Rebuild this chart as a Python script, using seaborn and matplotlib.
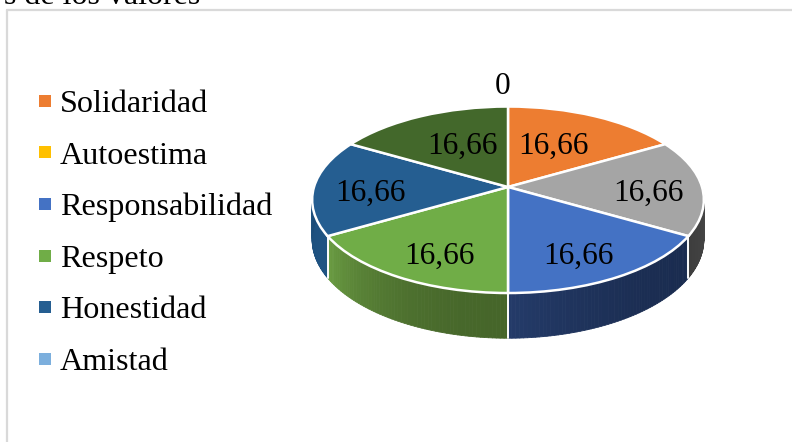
import numpy as np
import pandas as pd
import matplotlib
matplotlib.use("Agg")
import matplotlib.pyplot as plt
from matplotlib.collections import PolyCollection
from matplotlib.colors import to_rgb
from matplotlib.lines import Line2D
from matplotlib.transforms import Transform
import seaborn as sns

# ---- data -------------------------------------------------------------
legend_names = ["Solidaridad", "Autoestima", "Responsabilidad", "Respeto", "Honestidad", "Amistad"]
legend_colors = ["#ED7D31", "#FFC000", "#4472C4", "#70AD47", "#255E91", "#7CAFDD"]
slice_values = [16.66, 16.66, 16.66, 16.66, 16.66, 16.66]
slice_labels = ["16,66", "16,66", "16,66", "16,66", "16,66", "16,66"]
slice_colors = ["#ED7D31", "#A5A5A5", "#4472C4", "#70AD47", "#255E91", "#43682B"]
wall_left = ["#8A461C", "#3E3E3E", "#243B69", "#6A9C42", "#1A4A75", "#2F4A1E"]
wall_right = ["#8A461C", "#454545", "#1A2C50", "#46662A", "#1F5382", "#2F4A1E"]
label_xy = [(553, 146), (648, 193), (578, 256), (439, 256), (370, 193), (462, 146)]
extra_label = "0"
extra_label_xy = (503, 87)
title_fragment = "s de los valores"

# ---- style ------------------------------------------------------------
sns.set_theme(style="white")
plt.rcParams["font.family"] = ["Liberation Serif", "DejaVu Serif"]
TEXT = "#000000"
W, H, DPI = 792, 442, 100

# perspective of the pie: apex in pixels, horizontal and vertical radii, foreshortening
APEX_X, APEX_Y = 508.0, 187.0
RX, RY, PERSP = 194.0, 91.5, 0.137
DEPTH = 39.0


class PiePerspective(Transform):
    """Maps the unit-circle coordinates of ax.pie to pixels of the tilted pie."""
    input_dims = output_dims = 2

    def transform_non_affine(self, xy):
        xy = np.asarray(xy, dtype=float)
        d = 1 + PERSP * xy[:, 1]
        return np.column_stack((APEX_X + RX * xy[:, 0] / d, APEX_Y - RY * xy[:, 1] / d))


persp = PiePerspective()


def rim(theta):
    """Top and bottom rim pixels for clockwise angles measured from 12 o'clock."""
    u, v = np.sin(theta), np.cos(theta)
    top = persp.transform_non_affine(np.column_stack((u, v)))
    bottom = top + np.column_stack((np.zeros_like(u), DEPTH / (1 + PERSP * v)))
    return top, bottom


fig = plt.figure(figsize=(W / DPI, H / DPI), dpi=DPI, facecolor="white")
ax = fig.add_axes([0, 0, 1, 1])

frame = pd.DataFrame({"value": slice_values, "color": slice_colors})
palette = sns.color_palette(frame["color"].tolist())
wedges, _ = ax.pie(
    frame["value"], colors=palette, startangle=90, counterclock=False, radius=1,
    wedgeprops=dict(edgecolor="white", linewidth=1.8, zorder=5),
)
ax.set_aspect("auto")
ax.set_xlim(0, W)
ax.set_ylim(H, 0)
ax.set_axis_off()
for w in wedges:
    w.set_transform(persp + ax.transData)
    w.set_clip_on(False)

# side wall, one gradient per slice, from the same cumulative angles
edges = np.concatenate(([0], np.cumsum(slice_values))) / np.sum(slice_values) * 2 * np.pi
for i in range(len(slice_values)):
    a0, a1 = edges[i], edges[i + 1]
    # only the part of the rim that faces the viewer
    a0v, a1v = max(a0, np.pi * 0.47), min(a1, np.pi * 1.53)
    if a1v <= a0v:
        continue
    th = np.linspace(a0v, a1v, 61)
    top, bot = rim(th)
    polys = [[top[k], top[k + 1], bot[k + 1], bot[k]] for k in range(len(th) - 1)]
    # larger angles lie further left on the screen
    c_l, c_r = np.array(to_rgb(wall_left[i])), np.array(to_rgb(wall_right[i]))
    fr = np.linspace(0, 1, len(polys))[:, None] ** 2
    cols = c_l * fr + c_r * (1 - fr)
    ax.add_collection(PolyCollection(polys, facecolors=cols, edgecolors=cols, linewidths=0.6, zorder=2))

# white seams on the wall and along its outline
for a in edges:
    if np.pi * 0.47 < a < np.pi * 1.53:
        t, b = rim(np.array([a]))
        ax.plot([t[0, 0], b[0, 0]], [t[0, 1], b[0, 1]], color="white", lw=1.4, zorder=3)

# slice labels
for (x, y), text in zip(label_xy, slice_labels):
    ax.text(x, y, text, ha="center", va="center", fontsize=22.5, color=TEXT, zorder=6)
ax.text(*extra_label_xy, extra_label, ha="center", va="center", fontsize=22.5, color=TEXT, zorder=6)

# legend
handles = [Line2D([], [], linestyle="none", marker="s", markersize=8.2, markeredgewidth=0,
                  color=c, label=n) for n, c in zip(legend_names, legend_colors)]
ax.legend(handles=handles, loc="upper left", bbox_to_anchor=(37 / W, 1 - 89.5 / H),
          frameon=False, fontsize=23.1, labelspacing=0.69, handlelength=0.5,
          handletextpad=0.22, borderpad=0, borderaxespad=0, labelcolor=TEXT)

# chart frame and clipped caption above it
ax.plot([7, 7], [H, 10], color="#D9D9D9", lw=1.6, solid_joinstyle="miter", zorder=1)
ax.plot([7, W], [10, 10], color="#D9D9D9", lw=1.6, zorder=1)
ax.text(4, 3.5, title_fragment, ha="left", va="baseline", fontsize=23, color=TEXT)

fig.savefig("out.png", dpi=DPI, facecolor="white")
